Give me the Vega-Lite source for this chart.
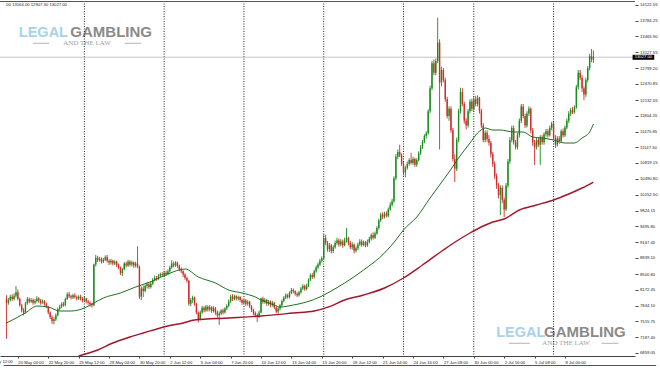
{
"$schema": "https://vega.github.io/schema/vega-lite/v6.json",
"width": 635, "height": 355,
"autosize": {"type": "none"},
"padding": {"left": 0, "top": 1, "right": 25, "bottom": 12},
"background": "#ffffff",
"config": {"view": {"stroke": null}, "text": {"font": "Liberation Sans"}, "axis": {"labelFont": "Liberation Sans", "labelOverlap": false}},
"resolve": {"axis": {"x": "independent", "y": "independent"}},
"layer": [
{"data": {"values": "i,o,h,l,c\n0,7990,8060,7150,7900\n1,7900,8000,7860,7960\n2,7960,8070,7930,8030\n3,8030,8080,7940,7980\n4,7980,8100,7950,8050\n5,8050,8250,8010,8120\n6,8120,8180,7950,7980\n7,7980,8010,7820,7850\n8,7850,7880,7700,7740\n9,7740,7790,7640,7700\n10,7700,7920,7680,7890\n11,7890,8020,7860,7980\n12,7980,8010,7890,7930\n13,7930,8000,7900,7960\n14,7960,7990,7860,7900\n15,7900,7980,7870,7940\n16,7940,8040,7910,7990\n17,7990,8020,7900,7950\n18,7950,7980,7860,7900\n19,7900,7970,7880,7930\n20,7930,7960,7840,7880\n21,7880,7910,7790,7820\n22,7820,7840,7660,7700\n23,7700,7720,7560,7600\n24,7600,7640,7460,7520\n25,7520,7600,7450,7560\n26,7560,7680,7520,7640\n27,7640,7800,7620,7770\n28,7770,7860,7740,7820\n29,7820,7910,7790,7880\n30,7880,7920,7820,7850\n31,7850,8010,7830,7980\n32,7980,8120,7960,8080\n33,8080,8130,8000,8040\n34,8040,8070,7970,8010\n35,8010,8090,7980,8060\n36,8060,8100,7990,8020\n37,8020,8050,7950,7990\n38,7990,8060,7960,8030\n39,8030,8070,7950,7990\n40,7990,8020,7910,7950\n41,7950,8030,7920,7990\n42,7990,8010,7890,7930\n43,7930,7960,7860,7900\n44,7900,7930,7820,7870\n45,7870,7900,7800,7850\n46,7850,8720,7830,8700\n47,8700,8900,8660,8840\n48,8840,8880,8750,8790\n49,8790,8860,8760,8820\n50,8820,8850,8720,8760\n51,8760,8840,8730,8800\n52,8800,8890,8770,8850\n53,8850,8900,8740,8780\n54,8780,8810,8690,8740\n55,8740,8820,8700,8780\n56,8780,8800,8680,8720\n57,8720,8790,8690,8760\n58,8760,8780,8650,8690\n59,8690,8720,8600,8640\n60,8640,8660,8480,8520\n61,8520,8630,8460,8600\n62,8600,8750,8580,8720\n63,8720,8760,8640,8680\n64,8680,8800,8650,8760\n65,8760,8790,8660,8700\n66,8700,8780,8660,8740\n67,8740,8760,8630,8680\n68,8680,8760,8640,8720\n69,8720,9080,8620,8650\n70,8650,8680,7980,8030\n71,8030,8240,7960,8200\n72,8200,8260,8020,8150\n73,8150,8290,8120,8250\n74,8250,8330,8200,8290\n75,8290,8320,8190,8230\n76,8230,8340,8200,8300\n77,8300,8420,8270,8380\n78,8380,8470,8350,8420\n79,8420,8460,8360,8400\n80,8400,8500,8380,8460\n81,8460,8530,8430,8500\n82,8500,8540,8440,8480\n83,8480,8560,8450,8530\n84,8530,8570,8460,8500\n85,8500,8600,8480,8560\n86,8560,8680,8530,8640\n87,8640,8790,8610,8720\n88,8720,8760,8640,8680\n89,8680,8770,8650,8740\n90,8740,8760,8630,8670\n91,8670,8700,8560,8600\n92,8600,8640,8520,8560\n93,8560,8580,8440,8490\n94,8490,8520,8380,8420\n95,8420,8450,8320,8360\n96,8360,8380,7840,7880\n97,7880,8000,7830,7960\n98,7960,8050,7900,8010\n99,8010,8030,7840,7880\n100,7880,7900,7660,7700\n101,7700,7720,7490,7560\n102,7560,7740,7530,7700\n103,7700,7840,7670,7800\n104,7800,7830,7700,7740\n105,7740,7860,7710,7820\n106,7820,7850,7720,7760\n107,7760,7850,7720,7810\n108,7810,7830,7690,7730\n109,7730,7830,7700,7790\n110,7790,7810,7650,7700\n111,7700,7740,7590,7640\n112,7640,7720,7440,7680\n113,7680,7770,7640,7740\n114,7740,7780,7660,7700\n115,7700,7810,7680,7780\n116,7780,7870,7750,7840\n117,7840,7970,7810,7930\n118,7930,8070,7900,8030\n119,8030,8080,7940,7980\n120,7980,8070,7950,8040\n121,8040,8060,7950,7990\n122,7990,8050,7950,8020\n123,8020,8040,7920,7960\n124,7960,7990,7860,7900\n125,7900,7980,7870,7950\n126,7950,7980,7830,7880\n127,7880,7960,7840,7920\n128,7920,7940,7790,7830\n129,7830,7850,7710,7750\n130,7750,7780,7640,7690\n131,7690,7720,7600,7640\n132,7640,7680,7500,7620\n133,7620,7740,7580,7700\n134,7700,8010,7680,7990\n135,7990,8030,7880,7920\n136,7920,8000,7880,7960\n137,7960,7980,7840,7880\n138,7880,7960,7840,7930\n139,7930,7950,7810,7860\n140,7860,7940,7820,7900\n141,7900,7920,7770,7800\n142,7800,7830,7680,7720\n143,7720,7810,7670,7780\n144,7780,7880,7740,7850\n145,7850,7970,7820,7940\n146,7940,8040,7910,8010\n147,8010,8100,7980,8060\n148,8060,8090,7990,8020\n149,8020,8140,7990,8110\n150,8110,8210,8080,8170\n151,8170,8200,8100,8140\n152,8140,8160,8050,8090\n153,8090,8120,8020,8060\n154,8060,8150,8030,8120\n155,8120,8230,8090,8200\n156,8200,8290,8170,8250\n157,8250,8280,8150,8190\n158,8190,8300,8160,8260\n159,8260,8410,8230,8380\n160,8380,8510,8350,8480\n161,8480,8520,8400,8440\n162,8440,8590,8410,8560\n163,8560,8680,8530,8640\n164,8640,8740,8610,8700\n165,8700,8820,8670,8780\n166,8780,8870,8740,8830\n167,8830,9330,8800,9250\n168,9250,9320,9100,9150\n169,9150,9190,8970,9020\n170,9020,9150,8960,9100\n171,9100,9130,8930,8980\n172,8980,9100,8940,9060\n173,9060,9200,9030,9150\n174,9150,9260,9110,9200\n175,9200,9240,9070,9120\n176,9120,9230,9080,9180\n177,9180,9220,9050,9100\n178,9100,9260,9080,9200\n179,9200,9460,9160,9250\n180,9250,9280,9100,9150\n181,9150,9190,9020,9060\n182,9060,9170,9010,9120\n183,9120,9140,8930,8990\n184,8990,9080,8950,9040\n185,9040,9160,9000,9120\n186,9120,9230,9090,9180\n187,9180,9220,9070,9110\n188,9110,9200,9080,9160\n189,9160,9190,9060,9100\n190,9100,9220,9070,9170\n191,9170,9280,9140,9240\n192,9240,9350,9200,9310\n193,9310,9370,9220,9260\n194,9260,9390,9230,9350\n195,9350,9500,9320,9460\n196,9460,9660,9430,9620\n197,9620,9780,9590,9740\n198,9740,9790,9650,9700\n199,9700,9800,9660,9760\n200,9760,9810,9680,9720\n201,9720,9890,9690,9850\n202,9850,10000,9820,9950\n203,9950,10070,9910,10020\n204,10020,10540,9990,10500\n205,10500,11000,10460,10950\n206,10950,11100,10900,11050\n207,11050,11200,10940,10980\n208,10980,11020,10760,10800\n209,10800,10840,10560,10620\n210,10620,10760,10520,10720\n211,10720,10850,10680,10800\n212,10800,10920,10760,10880\n213,10880,11030,10790,10820\n214,10820,10950,10780,10900\n215,10900,10930,10740,10780\n216,10780,10920,10740,10880\n217,10880,11060,10850,11020\n218,11020,11190,10990,11150\n219,11150,11300,11110,11260\n220,11260,11420,11230,11380\n221,11380,11480,11330,11440\n222,11440,11940,11410,11900\n223,11900,12430,11860,12380\n224,12380,12950,12340,12900\n225,12900,12980,12650,12700\n226,12700,13000,12650,12950\n227,12950,13850,12900,13330\n228,13330,13400,11100,12500\n229,12500,12830,12420,12760\n230,12760,12800,12500,12550\n231,12550,12600,12100,12150\n232,12150,12200,11750,11800\n233,11800,12000,11700,11950\n234,11950,12000,11450,11500\n235,11500,11550,10850,10900\n236,10900,11000,10420,10700\n237,10700,11350,10650,11300\n238,11300,11950,11250,11900\n239,11900,12390,11850,12300\n240,12300,12380,12000,12050\n241,12050,12100,11640,11700\n242,11700,11750,11520,11600\n243,11600,11950,11560,11900\n244,11900,12150,11850,12100\n245,12100,12160,11900,11950\n246,11950,12200,11900,12150\n247,12150,12220,12000,12050\n248,12050,12230,12000,12180\n249,12180,12200,11850,11900\n250,11900,11950,11550,11600\n251,11600,11650,11250,11300\n252,11300,11500,11250,11450\n253,11450,11500,11260,11320\n254,11320,11400,11180,11240\n255,11240,11280,10930,11000\n256,11000,11050,10740,10800\n257,10800,10850,10480,10550\n258,10550,10600,10280,10350\n259,10350,10400,10080,10150\n260,10150,10350,9730,10300\n261,10300,10350,9980,10050\n262,10050,10100,9690,9850\n263,9850,10400,9820,10350\n264,10350,10900,10300,10850\n265,10850,11360,10800,11300\n266,11300,11600,11250,11550\n267,11550,11600,11200,11250\n268,11250,11300,11100,11150\n269,11150,11450,11100,11400\n270,11400,11750,11350,11700\n271,11700,12050,11650,12000\n272,12000,12050,11750,11800\n273,11800,11850,11550,11600\n274,11600,11900,11560,11850\n275,11850,12000,11800,11950\n276,11950,11980,11440,11500\n277,11500,11550,11180,11250\n278,11250,11300,10780,11150\n279,11150,11350,11100,11300\n280,11300,11350,11150,11200\n281,11200,11400,10780,11350\n282,11350,11400,11200,11250\n283,11250,11460,11200,11420\n284,11420,11530,11370,11480\n285,11480,11530,11350,11400\n286,11400,11600,11370,11550\n287,11550,11680,11500,11640\n288,11640,11680,11300,11350\n289,11350,11400,11130,11200\n290,11200,11380,11160,11330\n291,11330,11380,11220,11280\n292,11280,11520,11240,11480\n293,11480,11540,11350,11400\n294,11400,11600,11360,11560\n295,11560,11750,11520,11700\n296,11700,11900,11650,11850\n297,11850,11970,11800,11920\n298,11920,11990,11840,11880\n299,11880,12020,11850,11980\n300,11980,12450,11950,12400\n301,12400,12760,12350,12700\n302,12700,12760,12550,12600\n303,12600,12650,12300,12380\n304,12380,12420,12130,12250\n305,12250,12600,12200,12550\n306,12550,12840,12500,12800\n307,12800,13100,12750,13050\n308,13050,13200,12920,12980\n309,12980,13164,12907,13027", "format": {"type": "csv", "parse": {"i": "number", "o": "number", "h": "number", "l": "number", "c": "number"}}},
 "mark": {"type": "bar", "opacity": 0},
 "encoding": {"x": {"field": "i", "type": "quantitative", "scale": {"domain": [-0.777, 328.24], "nice": false, "zero": false}, "title": null,
   "axis": {"values": [6, 22, 38, 54, 70, 86, 102, 118, 134, 150, 166, 182, 198, 214, 230, 246, 262, 278, 294],
    "labelExpr": "['20 May 04:00','22 May 20:00','25 May 12:00','28 May 04:00','30 May 20:00','2 Jun 12:00','5 Jun 04:00','7 Jun 20:00','10 Jun 12:00','13 Jun 04:00','15 Jun 20:00','18 Jun 12:00','21 Jun 04:00','24 Jun 16:00','27 Jun 08:00','30 Jun 00:00','2 Jul 16:00','5 Jul 08:00','8 Jul 00:00'][(datum.value-6)/16]",
    "labelAlign": "left", "labelFontSize": 4.2, "labelColor": "#222222", "labelPadding": 2, "tickSize": 2, "tickColor": "#444444", "domainColor": "#444444", "grid": false, "title": null, "labelFlush": false, "labelOverlap": false, "labelBound": false}},
  "y": {"field": "o", "type": "quantitative", "scale": {"domain": [6790.9, 14199.7], "nice": false, "zero": false}, "title": null,
   "axis": {"orient": "right", "values": [6859.05, 7187.4, 7515.75, 7844.1, 8172.45, 8500.8, 8839.1, 9167.45, 9495.8, 9824.15, 10152.5, 10490.8, 10819.15, 11147.5, 11475.85, 11804.2, 12132.55, 12470.85, 12799.2, 13127.55, 13465.9, 13784.25, 14122.55],
    "format": ".2f", "labelFontSize": 4.2, "labelColor": "#222222", "labelPadding": 1.5, "tickSize": 3, "tickColor": "#444444", "domain": false, "grid": false, "title": null, "labelOverlap": false, "labelFlush": false, "labelBaseline": "middle"}},
  "y2": {"field": "c"}}},
{"data": {"values": [{"i": 6.5, "p": 13455, "t": "LEGAL"}, {"i": 257.8, "p": 7194, "t": "LEGAL"}]},
 "mark": {"type": "text", "align": "left", "baseline": "alphabetic", "fontSize": 14.5, "fontWeight": "bold", "color": "#a8d2ea"},
 "encoding": {"x": {"field": "i", "type": "quantitative", "scale": {"domain": [-0.777, 328.24], "nice": false, "zero": false}, "axis": null},
  "y": {"field": "p", "type": "quantitative", "scale": {"domain": [6790.9, 14199.7], "nice": false, "zero": false}, "axis": null}, "text": {"field": "t"}}},
{"data": {"values": [{"i": 33.6, "p": 13455, "t": "GAMBLING"}, {"i": 283, "p": 7194, "t": "GAMBLING"}]},
 "mark": {"type": "text", "align": "left", "baseline": "alphabetic", "fontSize": 15, "fontWeight": "bold", "letterSpacing": 0.6, "color": "#8a8a8a"},
 "encoding": {"x": {"field": "i", "type": "quantitative", "scale": {"domain": [-0.777, 328.24], "nice": false, "zero": false}, "axis": null},
  "y": {"field": "p", "type": "quantitative", "scale": {"domain": [6790.9, 14199.7], "nice": false, "zero": false}, "axis": null}, "text": {"field": "t"}}},
{"data": {"values": [{"i": 42.4, "p": 13317, "t": "AND THE LAW"}, {"i": 294.6, "p": 7056, "t": "AND THE LAW"}]},
 "mark": {"type": "text", "align": "center", "baseline": "middle", "fontSize": 7, "font": "Liberation Serif", "letterSpacing": 1, "color": "#a0a0a0"},
 "encoding": {"x": {"field": "i", "type": "quantitative", "scale": {"domain": [-0.777, 328.24], "nice": false, "zero": false}, "axis": null},
  "y": {"field": "p", "type": "quantitative", "scale": {"domain": [6790.9, 14199.7], "nice": false, "zero": false}, "axis": null}, "text": {"field": "t"}}},
{"data": {"values": [{"i": 13.9, "i2": 22.5, "p": 13317}, {"i": 62.3, "i2": 70.9, "p": 13317}, {"i": 264.4, "i2": 275.5, "p": 7056}, {"i": 313.2, "i2": 322.2, "p": 7056}]},
 "mark": {"type": "rule", "color": "#b4b4b4", "strokeWidth": 1},
 "encoding": {"x": {"field": "i", "type": "quantitative", "scale": {"domain": [-0.777, 328.24], "nice": false, "zero": false}, "axis": null}, "x2": {"field": "i2"},
  "y": {"field": "p", "type": "quantitative", "scale": {"domain": [6790.9, 14199.7], "nice": false, "zero": false}, "axis": null}}},
{"data": {"values": [{"i": 41}, {"i": 83}, {"i": 125}, {"i": 167}, {"i": 209}, {"i": 246}, {"i": 288}]},
 "mark": {"type": "rule", "color": "#222222", "strokeWidth": 1, "strokeDash": [1, 1.5]},
 "encoding": {"x": {"field": "i", "type": "quantitative", "scale": {"domain": [-0.777, 328.24], "nice": false, "zero": false}, "axis": null}}},
{"data": {"values": [{}]},
 "mark": {"type": "rule", "color": "#c6c6c6", "strokeWidth": 1},
 "encoding": {"y": {"datum": 13027, "type": "quantitative", "scale": {"domain": [6790.9, 14199.7], "nice": false, "zero": false}, "axis": null}}},
{"data": {"values": [{}]},
 "mark": {"type": "rule", "color": "#555555", "strokeWidth": 1},
 "encoding": {"y": {"datum": 14189, "type": "quantitative", "scale": {"domain": [6790.9, 14199.7], "nice": false, "zero": false}, "axis": null}}},
{"data": {"values": "i,o,h,l,c\n0,7990,8060,7150,7900\n1,7900,8000,7860,7960\n2,7960,8070,7930,8030\n3,8030,8080,7940,7980\n4,7980,8100,7950,8050\n5,8050,8250,8010,8120\n6,8120,8180,7950,7980\n7,7980,8010,7820,7850\n8,7850,7880,7700,7740\n9,7740,7790,7640,7700\n10,7700,7920,7680,7890\n11,7890,8020,7860,7980\n12,7980,8010,7890,7930\n13,7930,8000,7900,7960\n14,7960,7990,7860,7900\n15,7900,7980,7870,7940\n16,7940,8040,7910,7990\n17,7990,8020,7900,7950\n18,7950,7980,7860,7900\n19,7900,7970,7880,7930\n20,7930,7960,7840,7880\n21,7880,7910,7790,7820\n22,7820,7840,7660,7700\n23,7700,7720,7560,7600\n24,7600,7640,7460,7520\n25,7520,7600,7450,7560\n26,7560,7680,7520,7640\n27,7640,7800,7620,7770\n28,7770,7860,7740,7820\n29,7820,7910,7790,7880\n30,7880,7920,7820,7850\n31,7850,8010,7830,7980\n32,7980,8120,7960,8080\n33,8080,8130,8000,8040\n34,8040,8070,7970,8010\n35,8010,8090,7980,8060\n36,8060,8100,7990,8020\n37,8020,8050,7950,7990\n38,7990,8060,7960,8030\n39,8030,8070,7950,7990\n40,7990,8020,7910,7950\n41,7950,8030,7920,7990\n42,7990,8010,7890,7930\n43,7930,7960,7860,7900\n44,7900,7930,7820,7870\n45,7870,7900,7800,7850\n46,7850,8720,7830,8700\n47,8700,8900,8660,8840\n48,8840,8880,8750,8790\n49,8790,8860,8760,8820\n50,8820,8850,8720,8760\n51,8760,8840,8730,8800\n52,8800,8890,8770,8850\n53,8850,8900,8740,8780\n54,8780,8810,8690,8740\n55,8740,8820,8700,8780\n56,8780,8800,8680,8720\n57,8720,8790,8690,8760\n58,8760,8780,8650,8690\n59,8690,8720,8600,8640\n60,8640,8660,8480,8520\n61,8520,8630,8460,8600\n62,8600,8750,8580,8720\n63,8720,8760,8640,8680\n64,8680,8800,8650,8760\n65,8760,8790,8660,8700\n66,8700,8780,8660,8740\n67,8740,8760,8630,8680\n68,8680,8760,8640,8720\n69,8720,9080,8620,8650\n70,8650,8680,7980,8030\n71,8030,8240,7960,8200\n72,8200,8260,8020,8150\n73,8150,8290,8120,8250\n74,8250,8330,8200,8290\n75,8290,8320,8190,8230\n76,8230,8340,8200,8300\n77,8300,8420,8270,8380\n78,8380,8470,8350,8420\n79,8420,8460,8360,8400\n80,8400,8500,8380,8460\n81,8460,8530,8430,8500\n82,8500,8540,8440,8480\n83,8480,8560,8450,8530\n84,8530,8570,8460,8500\n85,8500,8600,8480,8560\n86,8560,8680,8530,8640\n87,8640,8790,8610,8720\n88,8720,8760,8640,8680\n89,8680,8770,8650,8740\n90,8740,8760,8630,8670\n91,8670,8700,8560,8600\n92,8600,8640,8520,8560\n93,8560,8580,8440,8490\n94,8490,8520,8380,8420\n95,8420,8450,8320,8360\n96,8360,8380,7840,7880\n97,7880,8000,7830,7960\n98,7960,8050,7900,8010\n99,8010,8030,7840,7880\n100,7880,7900,7660,7700\n101,7700,7720,7490,7560\n102,7560,7740,7530,7700\n103,7700,7840,7670,7800\n104,7800,7830,7700,7740\n105,7740,7860,7710,7820\n106,7820,7850,7720,7760\n107,7760,7850,7720,7810\n108,7810,7830,7690,7730\n109,7730,7830,7700,7790\n110,7790,7810,7650,7700\n111,7700,7740,7590,7640\n112,7640,7720,7440,7680\n113,7680,7770,7640,7740\n114,7740,7780,7660,7700\n115,7700,7810,7680,7780\n116,7780,7870,7750,7840\n117,7840,7970,7810,7930\n118,7930,8070,7900,8030\n119,8030,8080,7940,7980\n120,7980,8070,7950,8040\n121,8040,8060,7950,7990\n122,7990,8050,7950,8020\n123,8020,8040,7920,7960\n124,7960,7990,7860,7900\n125,7900,7980,7870,7950\n126,7950,7980,7830,7880\n127,7880,7960,7840,7920\n128,7920,7940,7790,7830\n129,7830,7850,7710,7750\n130,7750,7780,7640,7690\n131,7690,7720,7600,7640\n132,7640,7680,7500,7620\n133,7620,7740,7580,7700\n134,7700,8010,7680,7990\n135,7990,8030,7880,7920\n136,7920,8000,7880,7960\n137,7960,7980,7840,7880\n138,7880,7960,7840,7930\n139,7930,7950,7810,7860\n140,7860,7940,7820,7900\n141,7900,7920,7770,7800\n142,7800,7830,7680,7720\n143,7720,7810,7670,7780\n144,7780,7880,7740,7850\n145,7850,7970,7820,7940\n146,7940,8040,7910,8010\n147,8010,8100,7980,8060\n148,8060,8090,7990,8020\n149,8020,8140,7990,8110\n150,8110,8210,8080,8170\n151,8170,8200,8100,8140\n152,8140,8160,8050,8090\n153,8090,8120,8020,8060\n154,8060,8150,8030,8120\n155,8120,8230,8090,8200\n156,8200,8290,8170,8250\n157,8250,8280,8150,8190\n158,8190,8300,8160,8260\n159,8260,8410,8230,8380\n160,8380,8510,8350,8480\n161,8480,8520,8400,8440\n162,8440,8590,8410,8560\n163,8560,8680,8530,8640\n164,8640,8740,8610,8700\n165,8700,8820,8670,8780\n166,8780,8870,8740,8830\n167,8830,9330,8800,9250\n168,9250,9320,9100,9150\n169,9150,9190,8970,9020\n170,9020,9150,8960,9100\n171,9100,9130,8930,8980\n172,8980,9100,8940,9060\n173,9060,9200,9030,9150\n174,9150,9260,9110,9200\n175,9200,9240,9070,9120\n176,9120,9230,9080,9180\n177,9180,9220,9050,9100\n178,9100,9260,9080,9200\n179,9200,9460,9160,9250\n180,9250,9280,9100,9150\n181,9150,9190,9020,9060\n182,9060,9170,9010,9120\n183,9120,9140,8930,8990\n184,8990,9080,8950,9040\n185,9040,9160,9000,9120\n186,9120,9230,9090,9180\n187,9180,9220,9070,9110\n188,9110,9200,9080,9160\n189,9160,9190,9060,9100\n190,9100,9220,9070,9170\n191,9170,9280,9140,9240\n192,9240,9350,9200,9310\n193,9310,9370,9220,9260\n194,9260,9390,9230,9350\n195,9350,9500,9320,9460\n196,9460,9660,9430,9620\n197,9620,9780,9590,9740\n198,9740,9790,9650,9700\n199,9700,9800,9660,9760\n200,9760,9810,9680,9720\n201,9720,9890,9690,9850\n202,9850,10000,9820,9950\n203,9950,10070,9910,10020\n204,10020,10540,9990,10500\n205,10500,11000,10460,10950\n206,10950,11100,10900,11050\n207,11050,11200,10940,10980\n208,10980,11020,10760,10800\n209,10800,10840,10560,10620\n210,10620,10760,10520,10720\n211,10720,10850,10680,10800\n212,10800,10920,10760,10880\n213,10880,11030,10790,10820\n214,10820,10950,10780,10900\n215,10900,10930,10740,10780\n216,10780,10920,10740,10880\n217,10880,11060,10850,11020\n218,11020,11190,10990,11150\n219,11150,11300,11110,11260\n220,11260,11420,11230,11380\n221,11380,11480,11330,11440\n222,11440,11940,11410,11900\n223,11900,12430,11860,12380\n224,12380,12950,12340,12900\n225,12900,12980,12650,12700\n226,12700,13000,12650,12950\n227,12950,13850,12900,13330\n228,13330,13400,11100,12500\n229,12500,12830,12420,12760\n230,12760,12800,12500,12550\n231,12550,12600,12100,12150\n232,12150,12200,11750,11800\n233,11800,12000,11700,11950\n234,11950,12000,11450,11500\n235,11500,11550,10850,10900\n236,10900,11000,10420,10700\n237,10700,11350,10650,11300\n238,11300,11950,11250,11900\n239,11900,12390,11850,12300\n240,12300,12380,12000,12050\n241,12050,12100,11640,11700\n242,11700,11750,11520,11600\n243,11600,11950,11560,11900\n244,11900,12150,11850,12100\n245,12100,12160,11900,11950\n246,11950,12200,11900,12150\n247,12150,12220,12000,12050\n248,12050,12230,12000,12180\n249,12180,12200,11850,11900\n250,11900,11950,11550,11600\n251,11600,11650,11250,11300\n252,11300,11500,11250,11450\n253,11450,11500,11260,11320\n254,11320,11400,11180,11240\n255,11240,11280,10930,11000\n256,11000,11050,10740,10800\n257,10800,10850,10480,10550\n258,10550,10600,10280,10350\n259,10350,10400,10080,10150\n260,10150,10350,9730,10300\n261,10300,10350,9980,10050\n262,10050,10100,9690,9850\n263,9850,10400,9820,10350\n264,10350,10900,10300,10850\n265,10850,11360,10800,11300\n266,11300,11600,11250,11550\n267,11550,11600,11200,11250\n268,11250,11300,11100,11150\n269,11150,11450,11100,11400\n270,11400,11750,11350,11700\n271,11700,12050,11650,12000\n272,12000,12050,11750,11800\n273,11800,11850,11550,11600\n274,11600,11900,11560,11850\n275,11850,12000,11800,11950\n276,11950,11980,11440,11500\n277,11500,11550,11180,11250\n278,11250,11300,10780,11150\n279,11150,11350,11100,11300\n280,11300,11350,11150,11200\n281,11200,11400,10780,11350\n282,11350,11400,11200,11250\n283,11250,11460,11200,11420\n284,11420,11530,11370,11480\n285,11480,11530,11350,11400\n286,11400,11600,11370,11550\n287,11550,11680,11500,11640\n288,11640,11680,11300,11350\n289,11350,11400,11130,11200\n290,11200,11380,11160,11330\n291,11330,11380,11220,11280\n292,11280,11520,11240,11480\n293,11480,11540,11350,11400\n294,11400,11600,11360,11560\n295,11560,11750,11520,11700\n296,11700,11900,11650,11850\n297,11850,11970,11800,11920\n298,11920,11990,11840,11880\n299,11880,12020,11850,11980\n300,11980,12450,11950,12400\n301,12400,12760,12350,12700\n302,12700,12760,12550,12600\n303,12600,12650,12300,12380\n304,12380,12420,12130,12250\n305,12250,12600,12200,12550\n306,12550,12840,12500,12800\n307,12800,13100,12750,13050\n308,13050,13200,12920,12980\n309,12980,13164,12907,13027", "format": {"type": "csv", "parse": {"i": "number", "o": "number", "h": "number", "l": "number", "c": "number"}}},
 "resolve": {"axis": {"x": "independent", "y": "independent"}},
 "layer": [
  {"mark": {"type": "rule", "strokeWidth": 0.9},
   "encoding": {"x": {"field": "i", "type": "quantitative", "scale": {"domain": [-0.777, 328.24], "nice": false, "zero": false}, "axis": null},
    "y": {"field": "l", "type": "quantitative", "scale": {"domain": [6790.9, 14199.7], "nice": false, "zero": false}, "axis": null}, "y2": {"field": "h"},
    "color": {"condition": {"test": "datum.c >= datum.o", "value": "#1a8c1a"}, "value": "#d42a2a"}}},
  {"mark": {"type": "bar", "size": 1.4},
   "encoding": {"x": {"field": "i", "type": "quantitative", "scale": {"domain": [-0.777, 328.24], "nice": false, "zero": false}, "axis": null},
    "y": {"field": "o", "type": "quantitative", "scale": {"domain": [6790.9, 14199.7], "nice": false, "zero": false}, "axis": null},
    "y2": {"field": "c"},
    "color": {"condition": {"test": "datum.c >= datum.o", "value": "#1a8c1a"}, "value": "#d42a2a"}}}
 ]},
{"data": {"values": [{"i": 0, "v": 7480}, {"i": 10, "v": 7690}, {"i": 16, "v": 7834}, {"i": 22, "v": 7813}, {"i": 28, "v": 7730}, {"i": 34, "v": 7730}, {"i": 41, "v": 7793}, {"i": 46, "v": 7897}, {"i": 51, "v": 8001}, {"i": 60, "v": 8106}, {"i": 68, "v": 8231}, {"i": 77, "v": 8356}, {"i": 85, "v": 8502}, {"i": 94, "v": 8607}, {"i": 101, "v": 8440}, {"i": 110, "v": 8314}, {"i": 117, "v": 8168}, {"i": 124, "v": 8106}, {"i": 131, "v": 8022}, {"i": 134, "v": 7960}, {"i": 141, "v": 7855}, {"i": 144, "v": 7813}, {"i": 151, "v": 7855}, {"i": 158, "v": 7918}, {"i": 165, "v": 8022}, {"i": 170, "v": 8126}, {"i": 178, "v": 8314}, {"i": 188, "v": 8586}, {"i": 199, "v": 8940}, {"i": 205, "v": 9212}, {"i": 209, "v": 9421}, {"i": 216, "v": 9692}, {"i": 223, "v": 10088}, {"i": 228, "v": 10360}, {"i": 233, "v": 10631}, {"i": 238, "v": 10923}, {"i": 244, "v": 11236}, {"i": 248, "v": 11445}, {"i": 252, "v": 11549}, {"i": 256, "v": 11507}, {"i": 260, "v": 11507}, {"i": 267, "v": 11466}, {"i": 272, "v": 11466}, {"i": 277, "v": 11361}, {"i": 282, "v": 11340}, {"i": 288, "v": 11299}, {"i": 294, "v": 11236}, {"i": 299, "v": 11236}, {"i": 303, "v": 11340}, {"i": 307, "v": 11466}, {"i": 309, "v": 11633}]},
 "mark": {"type": "line", "color": "#1f6f1f", "strokeWidth": 1, "interpolate": "monotone"},
 "encoding": {"x": {"field": "i", "type": "quantitative", "scale": {"domain": [-0.777, 328.24], "nice": false, "zero": false}, "axis": null},
  "y": {"field": "v", "type": "quantitative", "scale": {"domain": [6790.9, 14199.7], "nice": false, "zero": false}, "axis": null}}},
{"data": {"values": [{"i": 38, "v": 6790}, {"i": 48, "v": 6916}, {"i": 56, "v": 7062}, {"i": 65, "v": 7188}, {"i": 72, "v": 7271}, {"i": 85, "v": 7417}, {"i": 93, "v": 7480}, {"i": 99, "v": 7542}, {"i": 117, "v": 7584}, {"i": 134, "v": 7626}, {"i": 151, "v": 7688}, {"i": 162, "v": 7730}, {"i": 170, "v": 7820}, {"i": 178, "v": 7960}, {"i": 188, "v": 8064}, {"i": 199, "v": 8210}, {"i": 209, "v": 8419}, {"i": 219, "v": 8690}, {"i": 230, "v": 9003}, {"i": 237, "v": 9191}, {"i": 244, "v": 9358}, {"i": 251, "v": 9504}, {"i": 256, "v": 9587}, {"i": 262, "v": 9650}, {"i": 270, "v": 9838}, {"i": 279, "v": 9942}, {"i": 288, "v": 10047}, {"i": 296, "v": 10172}, {"i": 303, "v": 10297}, {"i": 309, "v": 10422}]},
 "mark": {"type": "line", "color": "#a3162a", "strokeWidth": 1.4, "interpolate": "monotone"},
 "encoding": {"x": {"field": "i", "type": "quantitative", "scale": {"domain": [-0.777, 328.24], "nice": false, "zero": false}, "axis": null},
  "y": {"field": "v", "type": "quantitative", "scale": {"domain": [6790.9, 14199.7], "nice": false, "zero": false}, "axis": null}}},
{"data": {"values": [{"i": -0.7, "p": 14126, "t": ".00 13164.00 12907.30 13027.00"}, {"i": -10, "p": 6666, "t": "17 May 12:00"}]},
 "mark": {"type": "text", "align": "left", "baseline": "middle", "fontSize": 4.2, "color": "#222222"},
 "encoding": {"x": {"field": "i", "type": "quantitative", "scale": {"domain": [-0.777, 328.24], "nice": false, "zero": false}, "axis": null},
  "y": {"field": "p", "type": "quantitative", "scale": {"domain": [6790.9, 14199.7], "nice": false, "zero": false}, "axis": null}, "text": {"field": "t"}}},
{"data": {"values": [{"i": 329.6, "i2": 341, "p": 13077, "p2": 12973}]},
 "mark": {"type": "rect", "color": "#000000"},
 "encoding": {"x": {"field": "i", "type": "quantitative", "scale": {"domain": [-0.777, 328.24], "nice": false, "zero": false}, "axis": null}, "x2": {"field": "i2"},
  "y": {"field": "p", "type": "quantitative", "scale": {"domain": [6790.9, 14199.7], "nice": false, "zero": false}, "axis": null}, "y2": {"field": "p2"}}},
{"data": {"values": [{"i": 335.3, "p": 13025, "t": "13027.00"}]},
 "mark": {"type": "text", "align": "center", "baseline": "middle", "fontSize": 4.2, "color": "#ffffff"},
 "encoding": {"x": {"field": "i", "type": "quantitative", "scale": {"domain": [-0.777, 328.24], "nice": false, "zero": false}, "axis": null},
  "y": {"field": "p", "type": "quantitative", "scale": {"domain": [6790.9, 14199.7], "nice": false, "zero": false}, "axis": null}, "text": {"field": "t"}}},
{"data": {"values": [{}]},
 "mark": {"type": "rule", "color": "#555555", "strokeWidth": 1},
 "encoding": {"x": {"datum": -1.5, "type": "quantitative", "scale": {"domain": [-0.777, 328.24], "nice": false, "zero": false}, "axis": null}, "x2": {"datum": 342},
  "y": {"datum": 6592.6, "type": "quantitative", "scale": {"domain": [6790.9, 14199.7], "nice": false, "zero": false}, "axis": null}}}
]
}
